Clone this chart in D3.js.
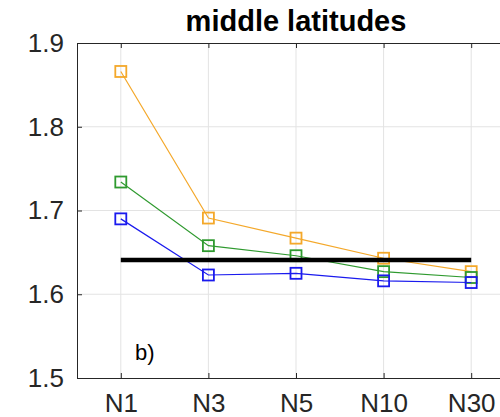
<!DOCTYPE html>
<meta charset="utf-8" />
<title>middle latitudes</title>
<style>
  body { margin: 0; background: #fff; }
  svg { display: block; font-family: "Liberation Sans", Arial, sans-serif; }
  .grid line { stroke: #e3e3e3; stroke-width: 1px; }
  .axis path, .axis line { stroke: #262626; stroke-width: 1px; }
  .axis text { fill: #262626; font-size: 26px; }
</style>
<body>
<svg width="500" height="417"></svg>
<script src="https://d3js.org/d3.v7.min.js"></script>
<script>
  const categories = ["N1", "N3", "N5", "N10", "N30"];
  const orangeVals = [1.866, 1.691, 1.667, 1.643, 1.627];
  const greenVals = [1.734, 1.658, 1.646, 1.627, 1.620];
  const blueVals = [1.690, 1.623, 1.625, 1.616, 1.614];
  const refValue = 1.641;
  const yTicks = [1.5, 1.6, 1.7, 1.8, 1.9];

  const series = [
    { name: "orange", color: "#f4a82a", values: orangeVals },
    { name: "green", color: "#2f9a2f", values: greenVals },
    { name: "blue", color: "#1a1aee", values: blueVals }
  ];

  const svg = d3.select("svg");
  const plotL = 77, plotR = 515, plotT = 43, plotB = 378;

  const x = d3.scalePoint().domain(categories).range([plotL, plotR]).padding(0.5);
  const y = d3.scaleLinear().domain([1.5, 1.9]).range([plotB, plotT]);

  // grid
  const grid = svg.append("g").attr("class", "grid");
  grid.selectAll("line.h")
    .data(yTicks.slice(1, -1))
    .join("line")
    .attr("class", "h")
    .attr("x1", plotL).attr("x2", plotR)
    .attr("y1", d => y(d)).attr("y2", d => y(d));
  grid.selectAll("line.v")
    .data(categories)
    .join("line")
    .attr("class", "v")
    .attr("x1", d => x(d)).attr("x2", d => x(d))
    .attr("y1", plotT).attr("y2", plotB);

  // axes with inward ticks
  svg.append("g")
    .attr("class", "axis")
    .attr("transform", `translate(0,${plotB})`)
    .call(d3.axisBottom(x).tickSizeInner(-5).tickSizeOuter(0).tickPadding(16))
    .selectAll("text").attr("dy", "0.71em");

  svg.append("g")
    .attr("class", "axis")
    .attr("transform", `translate(0,${plotT})`)
    .call(d3.axisTop(x).tickSizeInner(-5).tickSizeOuter(0).tickFormat(""));

  svg.append("g")
    .attr("class", "axis")
    .attr("transform", `translate(${plotL},0)`)
    .call(d3.axisLeft(y).tickValues(yTicks).tickFormat(d3.format(".1f"))
      .tickSizeInner(-5).tickSizeOuter(0).tickPadding(13));

  svg.append("g")
    .attr("class", "axis")
    .attr("transform", `translate(${plotR},0)`)
    .call(d3.axisRight(y).tickValues(yTicks).tickFormat("").tickSizeInner(-5).tickSizeOuter(0));

  // series
  const line = d3.line()
    .x((d, i) => x(categories[i]))
    .y(d => y(d));

  const g = svg.append("g");
  series.forEach(s => {
    g.append("path")
      .attr("d", line(s.values))
      .attr("fill", "none")
      .attr("stroke", s.color)
      .attr("stroke-width", 1.2);
    g.append("g").selectAll("rect")
      .data(s.values)
      .join("rect")
      .attr("x", (d, i) => x(categories[i]) - 5.5)
      .attr("y", d => y(d) - 5.5)
      .attr("width", 11)
      .attr("height", 11)
      .attr("fill", "none")
      .attr("stroke", s.color)
      .attr("stroke-width", 1.8);
  });

  // reference line
  svg.append("line")
    .attr("x1", x(categories[0]))
    .attr("x2", x(categories[categories.length - 1]))
    .attr("y1", y(refValue))
    .attr("y2", y(refValue))
    .attr("stroke", "#000")
    .attr("stroke-width", 4.5);

  svg.append("text")
    .attr("x", 135)
    .attr("y", 360)
    .attr("font-size", 22)
    .attr("fill", "#000")
    .text("b)");

  svg.append("text")
    .attr("x", (plotL + plotR) / 2)
    .attr("y", 31)
    .attr("text-anchor", "middle")
    .attr("font-size", 29)
    .attr("font-weight", "bold")
    .attr("fill", "#000")
    .text("middle latitudes");
</script>
</body>
